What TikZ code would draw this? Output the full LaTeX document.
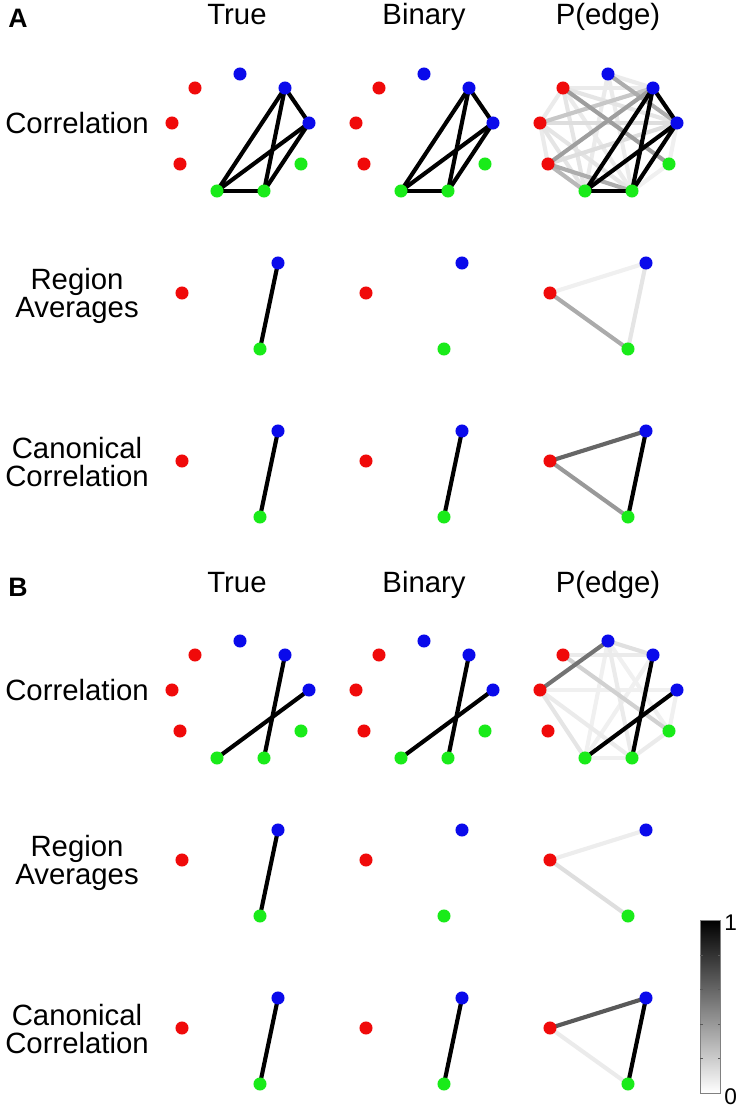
\documentclass[tikz,border=0pt]{standalone}
\usepackage{fontspec}
\setmainfont{Liberation Sans}
\usetikzlibrary{backgrounds}

\definecolor{nodered}{RGB}{240,10,10}
\definecolor{nodeblue}{RGB}{10,10,235}
\definecolor{nodegreen}{RGB}{25,235,25}

\tikzset{
  dot/.style={circle, inner sep=0pt, minimum size=9.8pt},
  link/.style={line width=3.1pt},
  lbl/.style={font=\fontsize{22}{21}\selectfont, align=center, inner sep=0pt},
  hdr/.style={font=\fontsize{22}{21}\selectfont, anchor=base, inner sep=0pt},
  tag/.style={font=\bfseries\fontsize{20}{20}\selectfont, anchor=base, inner sep=0pt},
  corr/.pic={
    \node[dot, fill=nodeblue] (-b1) at (0,0) {};
    \node[dot, fill=nodered] (-r1) at (-45,14) {};
    \node[dot, fill=nodeblue] (-b2) at (45,14) {};
    \node[dot, fill=nodered] (-r2) at (-68,49) {};
    \node[dot, fill=nodeblue] (-b3) at (69,49) {};
    \node[dot, fill=nodered] (-r3) at (-60,90) {};
    \node[dot, fill=nodegreen] (-g3) at (61,90) {};
    \node[dot, fill=nodegreen] (-g1) at (-23,117) {};
    \node[dot, fill=nodegreen] (-g2) at (24,117) {};
  },
  tri/.pic={
    \node[dot, fill=nodeblue] (-b) at (0,0) {};
    \node[dot, fill=nodered] (-r) at (-96,30) {};
    \node[dot, fill=nodegreen] (-g) at (-18,86) {};
  }
}

\begin{document}
\begin{tikzpicture}[x=0.75pt, y=-0.75pt]
    \useasboundingbox (0,0) rectangle (741,1112);

    % panel letters and column titles
    \node[tag] (tagA) at (18,28) {A};
    \node[tag] (tagB) at (18,596) {B};
    \node[hdr] (aTrue) at (237,25) {True};
    \node[hdr] (aBinary) at (424,25) {Binary};
    \node[hdr] (aPedge) at (608,25) {P(edge)};
    \node[hdr] (bTrue) at (237,592) {True};
    \node[hdr] (bBinary) at (424,592) {Binary};
    \node[hdr] (bPedge) at (608,592) {P(edge)};

    % row titles
    \node[lbl] (aCorr) at (77,123) {Correlation};
    \node[lbl] (aRegion) at (77,296) {Region\\Averages};
    \node[lbl] (aCanon) at (77,462) {Canonical\\Correlation};
    \node[lbl] (bCorr) at (77,690) {Correlation};
    \node[lbl] (bRegion) at (77,863) {Region\\Averages};
    \node[lbl] (bCanon) at (77,1029) {Canonical\\Correlation};

    % vertices
    \pic (aT) at (240,74) {corr};
    \pic (aB) at (424,74) {corr};
    \pic (aP) at (608,74) {corr};
    \pic (aTR) at (278,263) {tri};
    \pic (aBR) at (462,263) {tri};
    \pic (aPR) at (646,263) {tri};
    \pic (aTC) at (278,431) {tri};
    \pic (aBC) at (462,431) {tri};
    \pic (aPC) at (646,431) {tri};
    \pic (bT) at (240,641) {corr};
    \pic (bB) at (424,641) {corr};
    \pic (bP) at (608,641) {corr};
    \pic (bTR) at (278,830) {tri};
    \pic (bBR) at (462,830) {tri};
    \pic (bPR) at (646,830) {tri};
    \pic (bTC) at (278,998) {tri};
    \pic (bBC) at (462,998) {tri};
    \pic (bPC) at (646,998) {tri};

    \begin{scope}[on background layer]
    % A, correlation
    \draw[link] (aT-b2.center) -- (aT-b3.center);
    \draw[link] (aT-b2.center) -- (aT-g1.center);
    \draw[link] (aT-b2.center) -- (aT-g2.center);
    \draw[link] (aT-b3.center) -- (aT-g1.center);
    \draw[link] (aT-b3.center) -- (aT-g2.center);
    \draw[link] (aT-g1.center) -- (aT-g2.center);
    \draw[link] (aB-b2.center) -- (aB-b3.center);
    \draw[link] (aB-b2.center) -- (aB-g1.center);
    \draw[link] (aB-b2.center) -- (aB-g2.center);
    \draw[link] (aB-b3.center) -- (aB-g1.center);
    \draw[link] (aB-b3.center) -- (aB-g2.center);
    \draw[link] (aB-g1.center) -- (aB-g2.center);
    % A, correlation, edge probabilities
    \draw[link, black!6] (aP-g2.center) -- (aP-g3.center);
    \draw[link, black!6] (aP-g3.center) -- (aP-b3.center);
    \draw[link, black!8] (aP-b1.center) -- (aP-b2.center);
    \draw[link, black!8] (aP-r1.center) -- (aP-r2.center);
    \draw[link, black!8] (aP-r2.center) -- (aP-r3.center);
    \draw[link, black!8] (aP-b1.center) -- (aP-g1.center);
    \draw[link, black!8] (aP-b1.center) -- (aP-g2.center);
    \draw[link, black!8] (aP-r1.center) -- (aP-b2.center);
    \draw[link, black!8] (aP-r1.center) -- (aP-g2.center);
    \draw[link, black!10] (aP-r1.center) -- (aP-g1.center);
    \draw[link, black!10] (aP-r1.center) -- (aP-b3.center);
    \draw[link, black!10] (aP-r2.center) -- (aP-g1.center);
    \draw[link, black!10] (aP-r2.center) -- (aP-g2.center);
    \draw[link, black!13] (aP-r2.center) -- (aP-b3.center);
    \draw[link, black!13] (aP-r3.center) -- (aP-b3.center);
    \draw[link, black!22] (aP-r2.center) -- (aP-b2.center);
    \draw[link, black!28] (aP-r3.center) -- (aP-g1.center);
    \draw[link, black!32] (aP-r3.center) -- (aP-g2.center);
    \draw[link, black!32] (aP-b1.center) -- (aP-b3.center);
    \draw[link, black!38] (aP-r1.center) -- (aP-g3.center);
    \draw[link, black!38] (aP-r3.center) -- (aP-b2.center);
    \draw[link] (aP-b2.center) -- (aP-b3.center);
    \draw[link] (aP-b2.center) -- (aP-g1.center);
    \draw[link] (aP-b2.center) -- (aP-g2.center);
    \draw[link] (aP-b3.center) -- (aP-g1.center);
    \draw[link] (aP-b3.center) -- (aP-g2.center);
    \draw[link] (aP-g1.center) -- (aP-g2.center);
    % A, region averages
    \draw[link] (aTR-b.center) -- (aTR-g.center);
    \draw[link, black!6] (aPR-r.center) -- (aPR-b.center);
    \draw[link, black!10] (aPR-b.center) -- (aPR-g.center);
    \draw[link, black!33] (aPR-r.center) -- (aPR-g.center);
    % A, canonical correlation
    \draw[link] (aTC-b.center) -- (aTC-g.center);
    \draw[link] (aBC-b.center) -- (aBC-g.center);
    \draw[link, black!60] (aPC-r.center) -- (aPC-b.center);
    \draw[link, black!40] (aPC-r.center) -- (aPC-g.center);
    \draw[link] (aPC-b.center) -- (aPC-g.center);

    % B, correlation
    \draw[link] (bT-b2.center) -- (bT-g2.center);
    \draw[link] (bT-b3.center) -- (bT-g1.center);
    \draw[link] (bB-b2.center) -- (bB-g2.center);
    \draw[link] (bB-b3.center) -- (bB-g1.center);
    % B, correlation, edge probabilities
    \draw[link, black!6] (bP-b1.center) -- (bP-g1.center);
    \draw[link, black!6] (bP-b1.center) -- (bP-g3.center);
    \draw[link, black!6] (bP-g1.center) -- (bP-g2.center);
    \draw[link, black!6] (bP-b2.center) -- (bP-g1.center);
    \draw[link, black!6] (bP-r2.center) -- (bP-b3.center);
    \draw[link, black!6] (bP-b3.center) -- (bP-g3.center);
    \draw[link, black!8] (bP-r1.center) -- (bP-b2.center);
    \draw[link, black!8] (bP-r2.center) -- (bP-g2.center);
    \draw[link, black!8] (bP-b1.center) -- (bP-g2.center);
    \draw[link, black!8] (bP-g2.center) -- (bP-g3.center);
    \draw[link, black!10] (bP-r2.center) -- (bP-g1.center);
    \draw[link, black!12] (bP-b1.center) -- (bP-b2.center);
    \draw[link, black!18] (bP-r1.center) -- (bP-g3.center);
    \draw[link, black!55] (bP-b1.center) -- (bP-r2.center);
    \draw[link] (bP-b2.center) -- (bP-g2.center);
    \draw[link] (bP-b3.center) -- (bP-g1.center);
    % B, region averages
    \draw[link] (bTR-b.center) -- (bTR-g.center);
    \draw[link, black!7] (bPR-r.center) -- (bPR-b.center);
    \draw[link, black!13] (bPR-r.center) -- (bPR-g.center);
    % B, canonical correlation
    \draw[link] (bTC-b.center) -- (bTC-g.center);
    \draw[link] (bBC-b.center) -- (bBC-g.center);
    \draw[link, black!65] (bPC-r.center) -- (bPC-b.center);
    \draw[link, black!8] (bPC-r.center) -- (bPC-g.center);
    \draw[link] (bPC-b.center) -- (bPC-g.center);
    \end{scope}

    % colour bar
    \node[draw=gray, line width=0.6pt, top color=black, bottom color=white,
          minimum width=15pt, minimum height=129.75pt, inner sep=0pt] (cbar) at (710,1006.5) {};
    \foreach \ty in {955,989,1024,1058} {
        \draw[gray!70!black, line width=0.6pt] (700,\ty) -- ++(2.5,0);
        \draw[gray!70!black, line width=0.6pt] (720,\ty) -- ++(-2.5,0);
    }
    \node[anchor=west, inner sep=0pt, font=\fontsize{17}{17}\selectfont] (cbarTop) at (724,923) {1};
    \node[anchor=west, inner sep=0pt, font=\fontsize{17}{17}\selectfont] (cbarBot) at (724,1097) {0};
\end{tikzpicture}
\end{document}
